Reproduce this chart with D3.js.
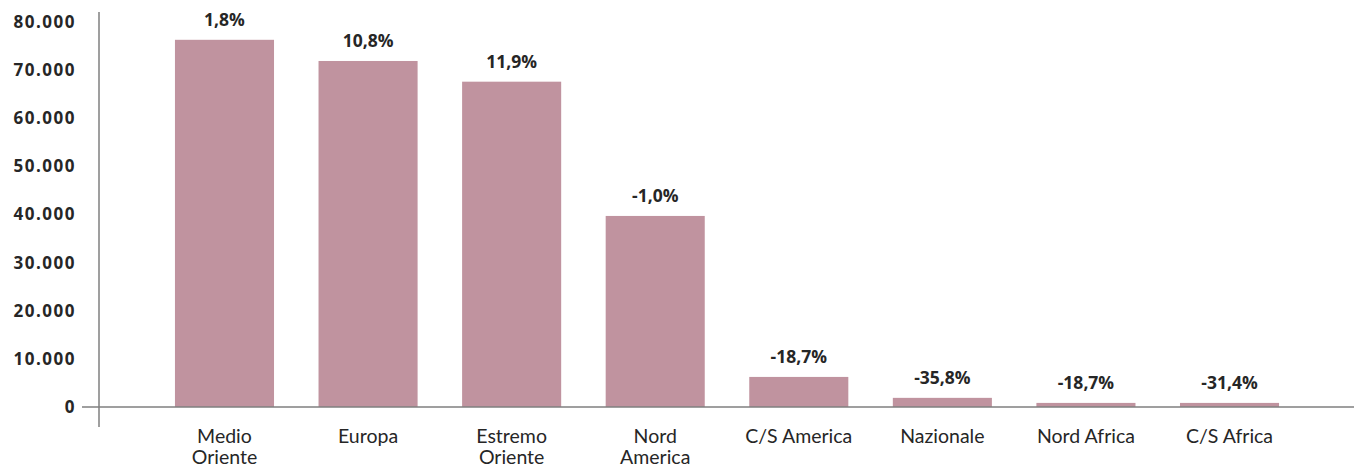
<!DOCTYPE html>
<html>
<head>
<meta charset="utf-8">
<script src="https://cdn.jsdelivr.net/npm/d3@7"></script>
<style>
  body { margin: 0; background: #fff; }
  svg { display: block; }
</style>
</head>
<body>
<svg width="1359" height="468"></svg>
<script>
// regions, values and year-on-year change labels
const categories = [['Medio', 'Oriente'], ['Europa'], ['Estremo', 'Oriente'], ['Nord', 'America'],
  ['C/S America'], ['Nazionale'], ['Nord Africa'], ['C/S Africa']];
const values = [76300, 71900, 67600, 39700, 6250, 1900, 850, 850];
const changes = ['1,8%', '10,8%', '11,9%', '-1,0%', '-18,7%', '-35,8%', '-18,7%', '-31,4%'];
const yTicks = [0, 10000, 20000, 30000, 40000, 50000, 60000, 70000, 80000];

const svg = d3.select('svg');
const labelFont = "'Open Sans', 'Noto Sans', sans-serif";
const catFont = "Lato, 'Open Sans', sans-serif";

const x = d3.scaleBand()
  .domain(d3.range(categories.length))
  .range([152.7, 1301.3])
  .paddingInner(0.31)
  .paddingOuter(0.155);

const y = d3.scaleLinear().domain([0, 80000]).range([407, 22]);

const fmt = v => d3.format(',')(v).replace(/,/g, '.');

// bars
svg.append('g').selectAll('rect')
  .data(values).enter().append('rect')
  .attr('x', (d, i) => x(i))
  .attr('width', x.bandwidth())
  .attr('y', d => y(d))
  .attr('height', d => y(0) - y(d))
  .attr('fill', '#c0939f');

// value change labels
svg.append('g').selectAll('text')
  .data(values).enter().append('text')
  .attr('x', (d, i) => x(i) + x.bandwidth() / 2)
  .attr('y', d => y(d) - 14)
  .attr('text-anchor', 'middle')
  .attr('font-family', labelFont)
  .attr('font-weight', 'bold')
  .attr('font-size', 17.5)
  .attr('fill', '#262626')
  .text((d, i) => changes[i]);

// y axis line
svg.append('line')
  .attr('x1', 99).attr('x2', 99)
  .attr('y1', 12).attr('y2', 427)
  .attr('stroke', '#7f7f7f').attr('stroke-width', 1.5);

// x axis line
svg.append('line')
  .attr('x1', 82).attr('x2', 1354)
  .attr('y1', y(0)).attr('y2', y(0))
  .attr('stroke', '#7f7f7f').attr('stroke-width', 1.5);

// y tick labels
svg.append('g').selectAll('text')
  .data(yTicks).enter().append('text')
  .attr('x', 76)
  .attr('y', d => y(d))
  .attr('dy', '0.35em')
  .attr('text-anchor', 'end')
  .attr('font-family', labelFont)
  .attr('font-weight', 'bold')
  .attr('font-size', 17)
  .attr('letter-spacing', 1.5)
  .attr('fill', '#262626')
  .text(fmt);

// category labels
const cat = svg.append('g').selectAll('text')
  .data(categories).enter().append('text')
  .attr('text-anchor', 'middle')
  .attr('font-family', catFont)
  .attr('font-size', 19.5)
  .attr('fill', '#262626');

cat.selectAll('tspan')
  .data((d, i) => d.map(t => ({ t, i })))
  .enter().append('tspan')
  .attr('x', d => x(d.i) + x.bandwidth() / 2)
  .attr('y', (d, j) => 443 + j * 21)
  .text(d => d.t);
</script>
</body>
</html>
